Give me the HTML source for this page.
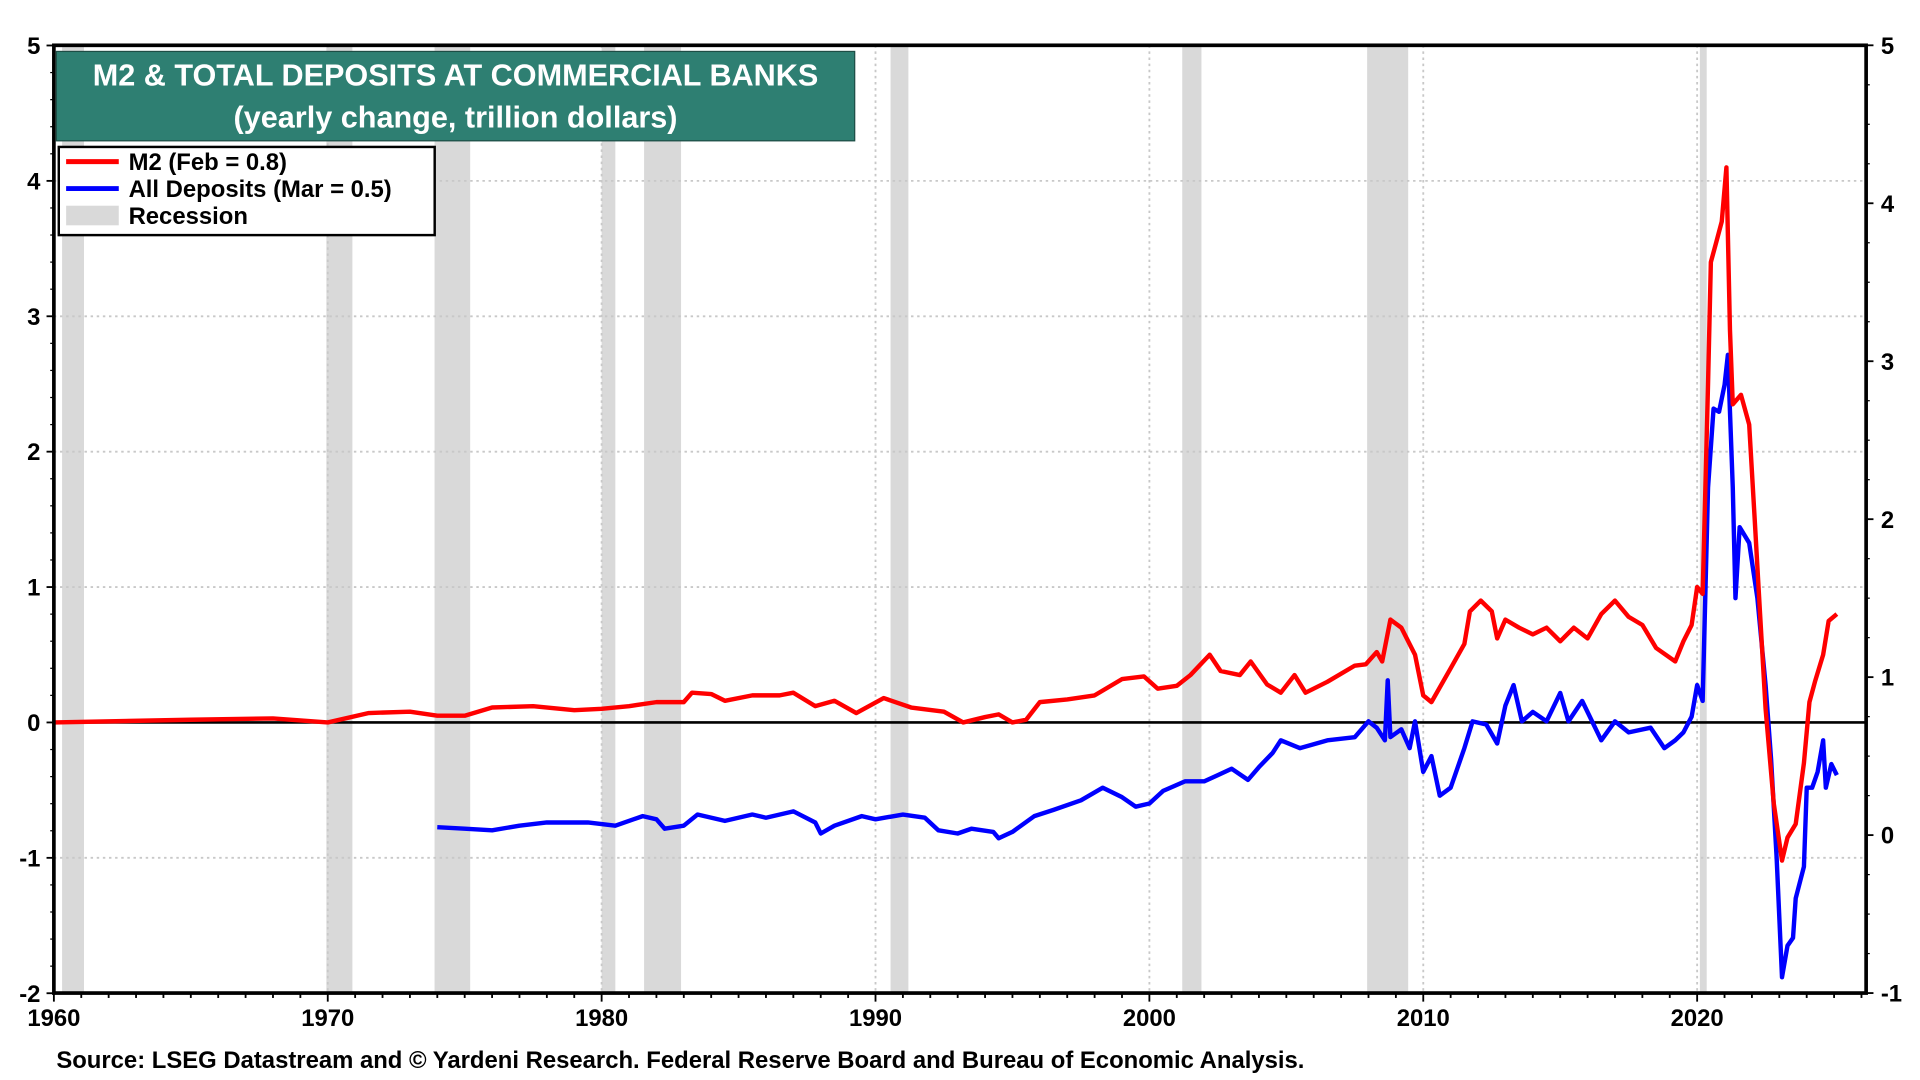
<!DOCTYPE html>
<html><head><meta charset="utf-8">
<style>
html,body{margin:0;padding:0;background:#fff;}
svg{display:block;font-family:"Liberation Sans",Arial,sans-serif;}
</style></head>
<body>
<svg id="chart" width="1920" height="1080" viewBox="0 0 1568 882" preserveAspectRatio="none" xmlns="http://www.w3.org/2000/svg"></svg>
<script>
const recessionStarts=[1960.3,1969.95,1973.9,1980.0,1981.55,1990.55,2001.2,2007.95,2020.1];
const recessionEnds=[1961.1,1970.9,1975.2,1980.5,1982.9,1991.2,2001.9,2009.45,2020.35];
const m2Years=[1960,1965,1968,1970,1971.5,1973,1974,1975,1976,1977.5,1979,1980,1981,1982,1983,1983.3,1984,1984.5,1985.5,1986.5,1987,1987.8,1988.5,1989.3,1990.3,1991.3,1992.5,1993.2,1994,1994.5,1995,1995.5,1996,1997,1998,1999,1999.8,2000.3,2001,2001.5,2002.2,2002.6,2003.3,2003.7,2004.3,2004.8,2005.3,2005.7,2006.5,2007.5,2007.9,2008.3,2008.5,2008.8,2009.2,2009.7,2010,2010.3,2011,2011.5,2011.7,2012.1,2012.5,2012.7,2013,2013.5,2014,2014.5,2015,2015.5,2016,2016.5,2017,2017.5,2018,2018.5,2019.2,2019.5,2019.8,2020.0,2020.2,2020.4,2020.5,2020.7,2020.9,2021.07,2021.2,2021.3,2021.6,2021.9,2022.1,2022.3,2022.5,2022.8,2023.1,2023.3,2023.6,2023.9,2024.1,2024.3,2024.6,2024.8,2025.1];
const m2Values=[0,0.02,0.03,0.0,0.07,0.08,0.05,0.05,0.11,0.12,0.09,0.1,0.12,0.15,0.15,0.22,0.21,0.16,0.2,0.2,0.22,0.12,0.16,0.07,0.18,0.11,0.08,0.0,0.04,0.06,0.0,0.02,0.15,0.17,0.2,0.32,0.34,0.25,0.27,0.35,0.5,0.38,0.35,0.45,0.28,0.22,0.35,0.22,0.3,0.42,0.43,0.52,0.45,0.76,0.7,0.5,0.2,0.15,0.4,0.58,0.82,0.9,0.82,0.62,0.76,0.7,0.65,0.7,0.6,0.7,0.62,0.8,0.9,0.78,0.72,0.55,0.45,0.6,0.72,1.0,0.95,2.5,3.4,3.55,3.7,4.1,2.9,2.35,2.42,2.2,1.5,0.8,0.1,-0.6,-1.02,-0.85,-0.75,-0.3,0.15,0.3,0.5,0.75,0.8];
const depYears=[1974.0,1975,1976,1977,1978,1979.5,1980.5,1981.5,1982,1982.3,1983,1983.5,1984.5,1985.5,1986,1987,1987.8,1988,1988.5,1989.5,1990,1991,1991.8,1992.3,1993,1993.5,1994.3,1994.5,1995,1995.8,1996.5,1997.5,1998.3,1999,1999.5,2000,2000.5,2001.3,2002,2002.5,2003,2003.6,2004,2004.5,2004.8,2005.5,2006.5,2007.5,2008,2008.3,2008.6,2008.7,2008.8,2009.2,2009.5,2009.7,2010,2010.3,2010.6,2011,2011.5,2011.8,2012.3,2012.7,2013,2013.3,2013.6,2014,2014.5,2015,2015.3,2015.8,2016.5,2017,2017.5,2018.3,2018.8,2019.2,2019.5,2019.8,2020.0,2020.2,2020.4,2020.6,2020.8,2021.0,2021.12,2021.3,2021.4,2021.55,2021.9,2022.2,2022.5,2022.7,2022.9,2023.1,2023.3,2023.5,2023.6,2023.9,2024.0,2024.2,2024.4,2024.6,2024.7,2024.9,2025.1];
const depValues=[0.05,0.04,0.03,0.06,0.08,0.08,0.06,0.12,0.10,0.04,0.06,0.13,0.09,0.13,0.11,0.15,0.08,0.01,0.06,0.12,0.10,0.13,0.11,0.03,0.01,0.04,0.02,-0.02,0.02,0.12,0.16,0.22,0.3,0.24,0.18,0.20,0.28,0.34,0.34,0.38,0.42,0.35,0.43,0.52,0.6,0.55,0.6,0.62,0.72,0.68,0.6,0.98,0.62,0.67,0.55,0.72,0.4,0.5,0.25,0.3,0.55,0.72,0.7,0.58,0.82,0.95,0.72,0.78,0.72,0.9,0.72,0.85,0.6,0.72,0.65,0.68,0.55,0.6,0.65,0.75,0.95,0.85,2.2,2.7,2.68,2.85,3.04,2.2,1.5,1.95,1.85,1.5,0.95,0.48,-0.14,-0.9,-0.7,-0.65,-0.4,-0.2,0.3,0.3,0.4,0.6,0.3,0.45,0.38];
const leftTicks=[5,4,3,2,1,0,-1,-2];
const rightTicks=[5,4,3,2,1,0,-1];
const xTicks=[1960,1970,1980,1990,2000,2010,2020];

const PL=44,PR=1524,PT=37,PB=811;
const xS=y=>PL+(y-1960)*(1386-44)/60;
const yL=v=>590-v*110.57;
const yR=v=>682-v*129;
const svg=document.getElementById('chart');
const NS='http://www.w3.org/2000/svg';
function mk(tag,attrs,parent){const e=document.createElementNS(NS,tag);for(const k in attrs)e.setAttribute(k,attrs[k]);(parent||svg).appendChild(e);return e;}

const gRec=mk('g',{});


recessionStarts.forEach((s,i)=>{
  const r=mk('rect',{x:xS(s),y:PT,width:xS(recessionEnds[i])-xS(s),height:PB-PT,fill:'#d9d9d9'},gRec);
  
  
});
const gGrid=mk('g',{stroke:'#c8c8c8','stroke-width':1.5,'stroke-dasharray':'2,3'});


leftTicks.forEach(t=>{if(t!==0&&t!==5&&t!==-2)mk('line',{x1:PL,x2:PR,y1:yL(t),y2:yL(t)},gGrid);});
xTicks.forEach(t=>{if(t!==1960)mk('line',{x1:xS(t),x2:xS(t),y1:PT,y2:PB},gGrid);});
const zl=mk('line',{x1:PL,x2:PR,y1:yL(0),y2:yL(0),stroke:'#000','stroke-width':2.2});



function path(xs,vs,yf,color,name){
  const d=xs.map((x,i)=>(i?'L':'M')+xS(x).toFixed(1)+','+yf(vs[i]).toFixed(1)).join('');
  const p=mk('path',{d:d,fill:'none',stroke:color,'stroke-width':3.6,'stroke-linejoin':'round'});
  
  
}
path(depYears,depValues,yR,'#0000ff','deposits-line');
path(m2Years,m2Values,yL,'#ff0000','m2-line');

const fr=mk('rect',{x:PL,y:PT,width:PR-PL,height:PB-PT,fill:'none',stroke:'#000','stroke-width':3});



const gAx=mk('g',{'font-size':19.5,'font-weight':'bold',fill:'#000'});


leftTicks.forEach(t=>{
  const y=yL(t);
  mk('line',{x1:PL-6,x2:PL,y1:y,y2:y,stroke:'#000','stroke-width':1.5},gAx);
  const tx=mk('text',{x:PL-11,y:y+7,'text-anchor':'end'},gAx);tx.textContent=t;
  
  
  if(t>-2) for(let k=1;k<5;k++)mk('line',{x1:PL-3,x2:PL,y1:y+k*110.57/5,y2:y+k*110.57/5,stroke:'#000','stroke-width':1},gAx);
});
rightTicks.forEach(t=>{
  const y=yR(t);
  mk('line',{x1:PR,x2:PR+6,y1:y,y2:y,stroke:'#000','stroke-width':1.5},gAx);
  const tx=mk('text',{x:PR+12,y:y+7,'text-anchor':'start'},gAx);tx.textContent=t;
  
  
  if(t>-1) for(let k=1;k<4;k++)mk('line',{x1:PR,x2:PR+3,y1:y+k*129/4,y2:y+k*129/4,stroke:'#000','stroke-width':1},gAx);
});
for(let yr=1960;yr<=2026;yr++){
  const big=yr%10===0;
  mk('line',{x1:xS(yr),x2:xS(yr),y1:PB,y2:PB+(big?7:4),stroke:'#000','stroke-width':1.5},gAx);
}
xTicks.forEach(t=>{
  const tx=mk('text',{x:xS(t),y:PB+27,'text-anchor':'middle'},gAx);tx.textContent=t;
  
  
});
</script>
<svg style="position:absolute;left:0;top:0" width="1920" height="1080" viewBox="0 0 1568 882" preserveAspectRatio="none" font-family="Liberation Sans, Arial, sans-serif">
  <g>
    <rect x="46" y="42" width="652" height="73" fill="#2e7f72" stroke="#1d4d45" stroke-width="1"/>
    <text x="372" y="70" text-anchor="middle" fill="#fff" font-size="25" font-weight="bold">M2 &amp; TOTAL DEPOSITS AT COMMERCIAL BANKS</text>
    <text x="372" y="104" text-anchor="middle" fill="#fff" font-size="25" font-weight="bold">(yearly change, trillion dollars)</text>
  </g>
  <g>
    <rect x="48" y="120" width="307" height="72" fill="#fff" stroke="#000" stroke-width="2"/>
    <g>
      <line x1="54" x2="97" y1="132" y2="132" stroke="#ff0000" stroke-width="4"/>
      <text x="105" y="139" font-size="19.5" font-weight="bold">M2 (Feb = 0.8)</text>
    </g>
    <g>
      <line x1="54" x2="97" y1="154" y2="154" stroke="#0000ff" stroke-width="4"/>
      <text x="105" y="161" font-size="19.5" font-weight="bold">All Deposits (Mar = 0.5)</text>
    </g>
    <g>
      <rect x="54" y="168" width="43" height="16" fill="#d9d9d9"/>
      <text x="105" y="183" font-size="19.5" font-weight="bold">Recession</text>
    </g>
  </g>
  <text x="46" y="872" font-size="19.5" font-weight="bold">Source: LSEG Datastream and © Yardeni Research. Federal Reserve Board and Bureau of Economic Analysis.</text>
</svg>
</body></html>
